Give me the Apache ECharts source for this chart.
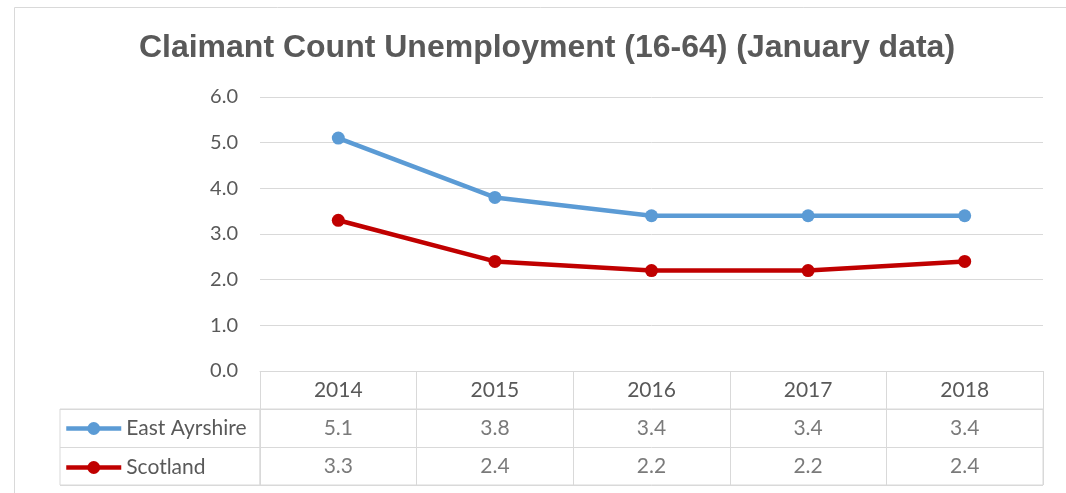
<!DOCTYPE html>
<html>
<head>
<meta charset="utf-8">
<title>Claimant Count Unemployment</title>
<script src="https://cdn.jsdelivr.net/npm/echarts@6/dist/echarts.min.js"></script>
<style>
  html, body { margin: 0; padding: 0; background: #fff; }
  #chart { width: 1066px; height: 493px; }
</style>
</head>
<body>
<div id="chart"></div>
<script>
// data
const years = ['2014', '2015', '2016', '2017', '2018']
const seriesNames = ['East Ayrshire', 'Scotland']
const eastAyrshire = [5.1, 3.8, 3.4, 3.4, 3.4]
const scotland = [3.3, 2.4, 2.2, 2.2, 2.4]
const yMin = 0
const yMax = 6
const yStep = 1

const colors = ['#5B9BD5', '#C00000']
const gridColor = '#d9d9d9'
const textColor = '#595959'
const font = 'Lato, "Open Sans", sans-serif'

const chart = echarts.init(document.getElementById('chart'))

// rows for the data table under the plot
const tableData = []
;[eastAyrshire, scotland].forEach((vals, r) => {
  vals.forEach((v, i) => tableData.push([years[i], seriesNames[r], v]))
})

const lineSeries = (name, data, color) => ({
  name,
  type: 'line',
  xAxisIndex: 0,
  yAxisIndex: 0,
  data,
  symbol: 'circle',
  symbolSize: 13,
  lineStyle: { color, width: 4.5 },
  itemStyle: { color },
  emphasis: { disabled: true }
})

const option = {
  animation: false,
  title: {
    text: 'Claimant Count Unemployment (16-64) (January data)',
    left: 542,
    textAlign: 'center',
    top: 27,
    textStyle: {
      fontFamily: '"Liberation Sans", Arial, sans-serif',
      fontSize: 32,
      fontWeight: 'bold',
      color: textColor
    }
  },
  legend: {
    data: seriesNames,
    orient: 'vertical',
    left: 64,
    top: 418,
    padding: 0,
    itemWidth: 55,
    itemHeight: 16,
    itemGap: 18,
    lineStyle: { width: 4.5 },
    textStyle: { fontFamily: font, fontSize: 21, color: textColor }
  },
  graphic: [
    {
      type: 'rect',
      shape: { x: 14.5, y: 7.5, width: 1200, height: 600 },
      style: { fill: 'none', stroke: gridColor, lineWidth: 1 },
      silent: true
    }
  ],
  grid: [
    { left: 260, right: 23, top: 97, bottom: 122 },
    { left: 260, right: 23, top: 409, bottom: 8, show: true, borderColor: gridColor, borderWidth: 1 },
    { left: 60, width: 200, top: 409, bottom: 8, show: true, borderColor: gridColor, borderWidth: 1 }
  ],
  xAxis: [
    {
      type: 'category',
      gridIndex: 0,
      data: years,
      boundaryGap: true,
      axisLine: { lineStyle: { color: gridColor, width: 1 } },
      axisTick: { show: true, interval: 0, length: 38, lineStyle: { color: gridColor } },
      axisLabel: { margin: 9, fontFamily: font, fontSize: 21, color: textColor }
    },
    {
      type: 'category',
      gridIndex: 1,
      data: years,
      axisLine: { show: false },
      axisTick: { show: false },
      axisLabel: { show: false },
      splitLine: { show: true, interval: 0, lineStyle: { color: gridColor } }
    },
    { type: 'value', gridIndex: 2, show: false }
  ],
  yAxis: [
    {
      type: 'value',
      gridIndex: 0,
      min: yMin,
      max: yMax,
      interval: yStep,
      axisLine: { show: false },
      axisTick: { show: false },
      axisLabel: {
        margin: 22,
        fontFamily: font,
        fontSize: 20,
        color: textColor,
        formatter: v => v.toFixed(1)
      },
      splitLine: { lineStyle: { color: gridColor, width: 1 } }
    },
    {
      type: 'category',
      gridIndex: 1,
      data: seriesNames,
      inverse: true,
      axisLine: { show: false },
      axisTick: { show: false },
      axisLabel: { show: false },
      splitLine: { show: true, interval: 0, lineStyle: { color: gridColor } }
    },
    {
      type: 'category',
      gridIndex: 2,
      data: seriesNames,
      inverse: true,
      axisLine: { show: false },
      axisTick: { show: false },
      axisLabel: { show: false },
      splitLine: { show: true, interval: 0, lineStyle: { color: gridColor } }
    }
  ],
  series: [
    lineSeries(seriesNames[0], eastAyrshire, colors[0]),
    lineSeries(seriesNames[1], scotland, colors[1]),
    {
      name: 'table',
      type: 'scatter',
      xAxisIndex: 1,
      yAxisIndex: 1,
      data: tableData,
      symbolSize: 0,
      silent: true,
      label: {
        show: true,
        position: 'inside',
        fontFamily: font,
        fontSize: 21,
        color: textColor,
        formatter: p => p.value[2].toFixed(1)
      }
    }
  ]
}

chart.setOption(option)
window.addEventListener('resize', () => chart.resize())
</script>
</body>
</html>
